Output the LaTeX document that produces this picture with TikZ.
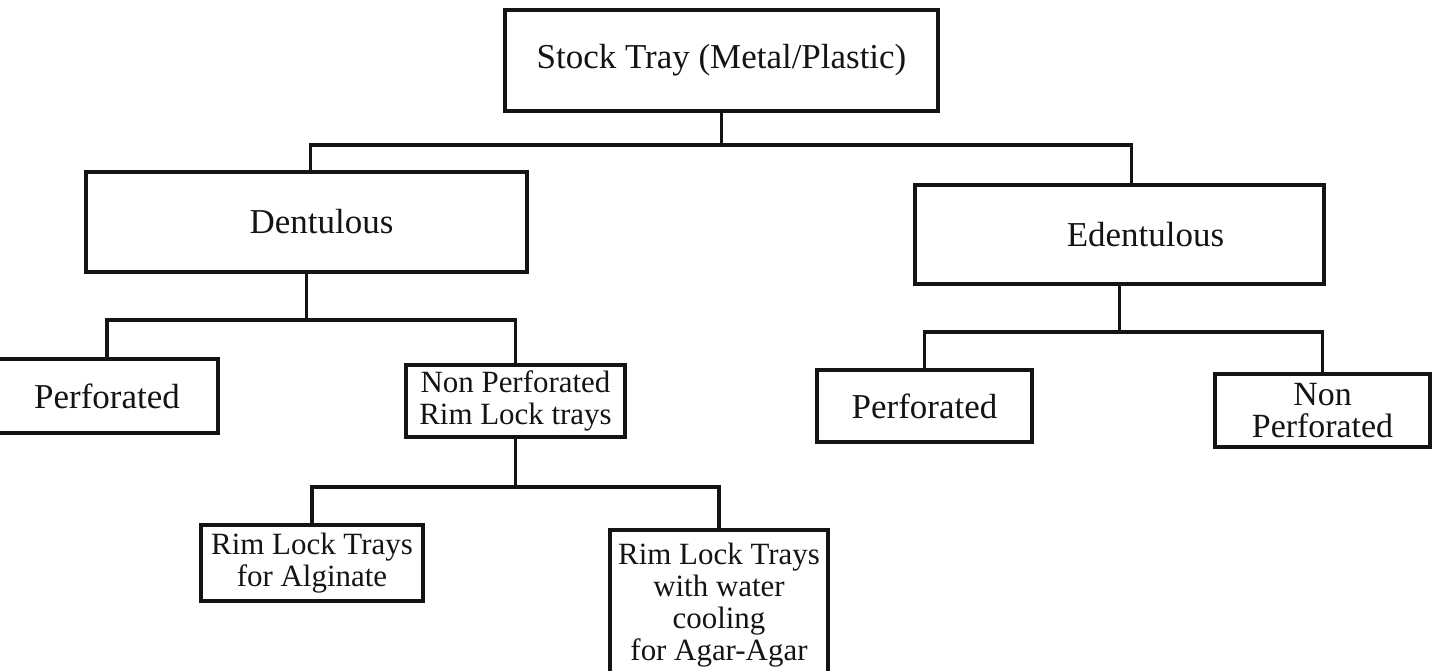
\documentclass[tikz,border=0pt]{standalone}
\usepackage{fontspec}
\setmainfont{Liberation Serif}
\usepackage{tikz}
\usetikzlibrary{positioning, calc}

\definecolor{InkBlack}{RGB}{20,20,20}
\newcommand{\boxfont}{\fontsize{19.9pt}{18.2pt}\selectfont}
\newcommand{\smallboxfont}{\fontsize{17.6pt}{18.2pt}\selectfont}

\tikzset{
  tray/.style={draw=InkBlack, line width=2pt, align=center, inner sep=0pt, text=InkBlack, font=\boxfont},
  smalltray/.style={tray, font=\smallboxfont},
  link/.style={draw=InkBlack, line width=2pt}
}

\begin{document}
\begin{tikzpicture}[x=0.02cm, y=-0.02cm]
          \useasboundingbox (0,0) rectangle (1433,670);
          \clip (0,0) rectangle (1433,670);
          % top level
          \node[tray, minimum width=8.66cm, minimum height=2.02cm] (stock) at (721.5,60.5) {Stock Tray (Metal/Plastic)};
          \node[tray, minimum width=8.82cm, minimum height=2.00cm] (dent) at (306.5,222) {\hspace*{0.6cm}Dentulous};
          \node[tray, minimum width=8.18cm, minimum height=1.98cm] (edent) at (1119.5,234.5) {\hspace*{1.04cm}Edentulous};
          % dentulous side
          \node[tray, minimum width=4.44cm, minimum height=1.48cm] (dperf) at (107,396) {Perforated};
          \node[smalltray, minimum width=4.38cm, minimum height=1.44cm] (dnonperf) at (515.5,401) {Non Perforated\\Rim Lock trays};
          \node[smalltray, minimum width=4.44cm, minimum height=1.52cm] (alginate) at (312,563) {Rim Lock Trays\\for Alginate};
          \node[smalltray, minimum width=4.36cm, minimum height=3.00cm] (agar) at (719,605) {Rim Lock Trays\\with water\\cooling\\for Agar-Agar};
          % edentulous side
          \node[tray, minimum width=4.30cm, minimum height=1.44cm] (eperf) at (924.5,406) {Perforated};
          \node[tray, font=\fontsize{19.3pt}{18.2pt}\selectfont, minimum width=4.30cm, minimum height=1.46cm] (enonperf) at (1322.5,410.5) {Non\\Perforated};
          % connectors
          \coordinate (stockfork) at ($(stock.south)+(0,32)$);
          \coordinate (dentfork) at ($(dent.south)+(0,46)$);
          \coordinate (edentfork) at ($(edent.south)+(0,46)$);
          \coordinate (rimfork) at ($(dnonperf.south)+(0,48)$);
          \draw[link] (stock.south) -- (stockfork);
          \draw[link] ($(dent.north)+(4,0)$) |- (stockfork) -| ($(edent.north)+(12,0)$);
          \draw[link] (dent.south) -- (dentfork);
          \draw[link] (dperf.north) |- (dentfork) -| (dnonperf.north);
          \draw[link] (edent.south) -- (edentfork);
          \draw[link] (eperf.north) |- (edentfork) -| (enonperf.north);
          \draw[link] (dnonperf.south) -- (rimfork);
          \draw[link] (alginate.north) |- (rimfork) -| (agar.north);
        \end{tikzpicture}
\end{document}
